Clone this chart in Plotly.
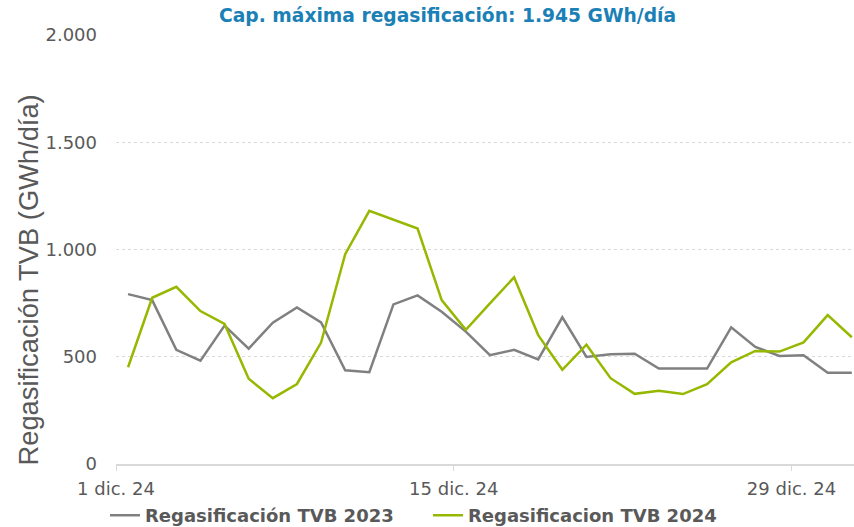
import pandas as pd
import plotly.graph_objects as go

dates = pd.date_range("2024-12-01", "2024-12-31", freq="D")

regas_2023 = [792, 764, 532, 482, 645, 538, 659, 730, 660, 437, 428, 744, 786, 710,
              617, 507, 532, 488, 684, 499, 512, 514, 445, 445, 445, 637, 546, 504,
              507, 425, 425]
regas_2024 = [451, 775, 826, 713, 653, 397, 307, 373, 566, 978, 1180, 1140, 1098, 764,
              626, 749, 870, 601, 439, 556, 400, 327, 341, 326, 372, 474, 527, 524,
              567, 694, 591]

tick_vals = ["2024-11-30 12:00", "2024-12-14 12:00", "2024-12-28 12:00"]
tick_text = ["1 dic. 24", "15 dic. 24", "29 dic. 24"]

FONT = "DejaVu Sans"
GREY = "#595959"

W, H = 854, 527
L, T, B = 116, 35, 63
PW, PH = W - L, H - T - B

fig = go.Figure()
fig.add_trace(go.Scatter(x=dates, y=regas_2023, mode="lines",
                         name="<b>Regasificación TVB 2023</b>",
                         line=dict(color="#808080", width=2.5)))
fig.add_trace(go.Scatter(x=dates, y=regas_2024, mode="lines",
                         name="<b>Regasificacion TVB 2024</b>",
                         line=dict(color="#96b800", width=2.5)))

fig.update_layout(
    width=W, height=H,
    margin=dict(l=L, r=0, t=T, b=B, pad=0, autoexpand=False),
    paper_bgcolor="white", plot_bgcolor="white",
    separators=",.",
    font=dict(family=FONT, color=GREY),
    showlegend=True,
    legend=dict(orientation="h", x=-11 / PW, xanchor="left", y=-0.077, yanchor="top",
                font=dict(size=18, color=GREY, family=FONT),
                itemwidth=30, tracegroupgap=0, traceorder="normal",
                entrywidth=278, entrywidthmode="pixels"),
    annotations=[
        dict(text="<b>Cap. máxima regasificación: 1.945 GWh/día</b>",
             xref="paper", yref="paper", x=(447 - L) / PW, y=(T + PH - 15) / PH,
             yanchor="middle", xanchor="center", showarrow=False,
             font=dict(size=18.7, color="#1a80b6", family=FONT)),
        dict(text="Regasificación TVB (GWh/día)", textangle=-90,
             xref="paper", yref="paper", x=(27.5 - L) / PW,
             y=(T + PH - 280) / PH,
             xanchor="center", yanchor="middle", showarrow=False,
             font=dict(size=27.3, color=GREY, family="Liberation Sans")),
    ],
)

fig.update_xaxes(
    range=["2024-11-30 12:00", "2024-12-31 02:10"],
    tickmode="array", tickvals=tick_vals, ticktext=tick_text,
    ticks="outside", ticklen=5, tickcolor="#d9d9d9",
    showline=True, linecolor="#d9d9d9", linewidth=1.5,
    showgrid=False, zeroline=False, automargin=False,
    tickfont=dict(size=18, color=GREY), ticklabelstandoff=3,
)
fig.update_yaxes(
    range=[0, 2000], tickvals=[0, 500, 1000, 1500, 2000],
    tickformat=",d",
    showgrid=True, gridcolor="#d9d9d9", griddash="dot", gridwidth=1,
    zeroline=False, showline=False, automargin=False,
    tickfont=dict(size=18, color=GREY),
    ticks="", ticklabelstandoff=18,
)

fig.write_html(
    "out.html",
    config={"displayModeBar": False},
    post_script="document.body.style.margin='0';document.body.style.overflow='hidden';",
)
